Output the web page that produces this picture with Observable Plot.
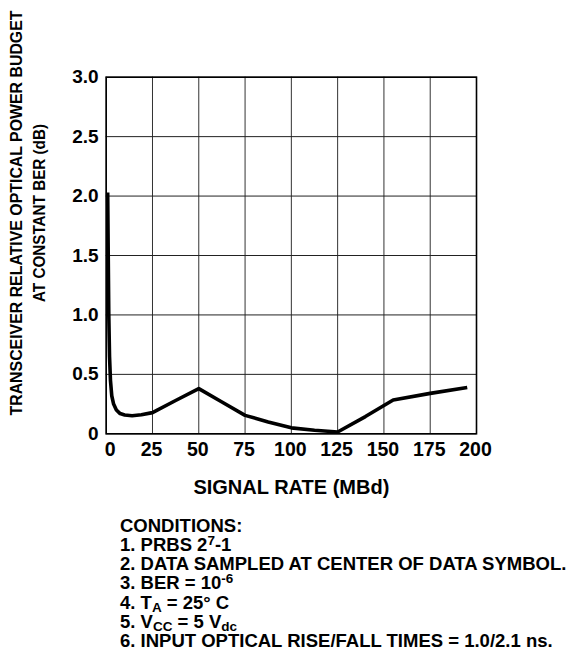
<!DOCTYPE html>
<html>
<head>
<meta charset="utf-8">
<script src="https://cdn.jsdelivr.net/npm/d3@7"></script>
<script src="https://cdn.jsdelivr.net/npm/@observablehq/plot@0.6"></script>
<style>
  html, body { margin: 0; padding: 0; background: #fff; }
  body { width: 573px; font-family: "Liberation Sans", Arial, Helvetica, sans-serif; }
  #chart svg { display: block; }
  #conditions {
    margin: 15.5px 0 0 120px;
    font-weight: bold;
    font-size: 18.5px;
    line-height: 19.3px;
    color: #000;
    white-space: nowrap;
  }
  #conditions sup, #conditions sub { font-size: 13.5px; line-height: 0; }
  #conditions sup { vertical-align: 6.5px; }
  #conditions sub { vertical-align: -3px; }
</style>
</head>
<body>
<div id="chart"></div>
<div id="conditions">
  <div>CONDITIONS:</div>
  <div>1. PRBS 2<sup>7</sup>-1</div>
  <div>2. DATA SAMPLED AT CENTER OF DATA SYMBOL.</div>
  <div>3. BER = 10<sup>-6</sup></div>
  <div>4. T<sub>A</sub> = 25° C</div>
  <div>5. V<sub>CC</sub> = 5 V<sub>dc</sub></div>
  <div>6. INPUT OPTICAL RISE/FALL TIMES = 1.0/2.1 ns.</div>
</div>
<script>
// Signal rate (MBd)
const rate = [0.8, 1.1, 1.4, 1.8, 2.3, 3.0, 4.0, 5.5, 7.5, 10, 14, 19, 25, 37.5, 50, 62.5, 75, 87.5, 100, 112.5, 125, 140, 155, 175, 195];
// Relative optical power budget (dB)
const budget = [2.03, 1.5, 1.0, 0.65, 0.45, 0.32, 0.25, 0.2, 0.17, 0.158, 0.152, 0.16, 0.178, 0.28, 0.38, 0.267, 0.155, 0.1, 0.05, 0.03, 0.015, 0.145, 0.285, 0.34, 0.39];
const xTicks = [0, 25, 50, 75, 100, 125, 150, 175, 200];
const yTicks = [0, 0.5, 1.0, 1.5, 2.0, 2.5, 3.0];
const yLabelLines = ["TRANSCEIVER RELATIVE OPTICAL POWER BUDGET", "AT CONSTANT BER (dB)"];
const xLabelText = "SIGNAL RATE (MBd)";

const data = rate.map((r, i) => ({rate: r, budget: budget[i]}));

const chart = Plot.plot({
  width: 573,
  height: 500,
  marginLeft: 105.7,
  marginRight: 97,
  marginTop: 76.7,
  marginBottom: 66.7,
  style: {fontFamily: "'Liberation Sans', Arial, sans-serif", fontWeight: "bold", fontSize: "19px", color: "#000", background: "#fff"},
  x: {domain: [0, 200]},
  y: {domain: [0, 3]},
  marks: [
    Plot.gridX(xTicks, {stroke: "#333", strokeOpacity: 1, strokeWidth: 1}),
    Plot.gridY(yTicks, {stroke: "#222", strokeOpacity: 1, strokeWidth: 1}),
    Plot.frame({stroke: "#000", strokeWidth: 1.6}),
    Plot.axisX(xTicks.slice(0, 1), {tickSize: 0, tickPadding: 8.5, fontSize: 19.5, dx: 4, label: null}),
    Plot.axisX(xTicks.slice(1), {tickSize: 0, tickPadding: 8.5, fontSize: 19.5, dx: -1, label: null}),
    Plot.axisY({ticks: yTicks, tickSize: 0, tickPadding: 7.5, fontSize: 19, tickFormat: d => d === 0 ? "0" : d.toFixed(1), label: null}),
    Plot.text([xLabelText], {frameAnchor: "bottom", text: d => d, dy: 46, fontSize: 20, fontWeight: "bold", lineAnchor: "top", textAnchor: "middle"}),
    Plot.text([yLabelLines[0]], {frameAnchor: "left", text: d => d, rotate: -90, dx: -89, dy: -42.5, fontSize: 16.5, fontWeight: "bold", textAnchor: "middle", lineAnchor: "middle", className: "ylab1"}),
    Plot.text([yLabelLines[1]], {frameAnchor: "left", text: d => d, rotate: -90, dx: -66, dy: -42.5, fontSize: 16.5, fontWeight: "bold", textAnchor: "middle", lineAnchor: "middle", className: "ylab2"}),
    Plot.line(data, {x: "rate", y: "budget", stroke: "#000", strokeWidth: 3.6, strokeLinejoin: "round", strokeLinecap: "butt"})
  ]
});
// condense the rotated y-axis title slightly to the reference's narrow lettering
d3.select(chart).selectAll(".ylab1 text").attr("textLength", 405).attr("lengthAdjust", "spacingAndGlyphs");
d3.select(chart).selectAll(".ylab2 text").attr("textLength", 178).attr("lengthAdjust", "spacingAndGlyphs");
document.getElementById("chart").appendChild(chart);
</script>
</body>
</html>
